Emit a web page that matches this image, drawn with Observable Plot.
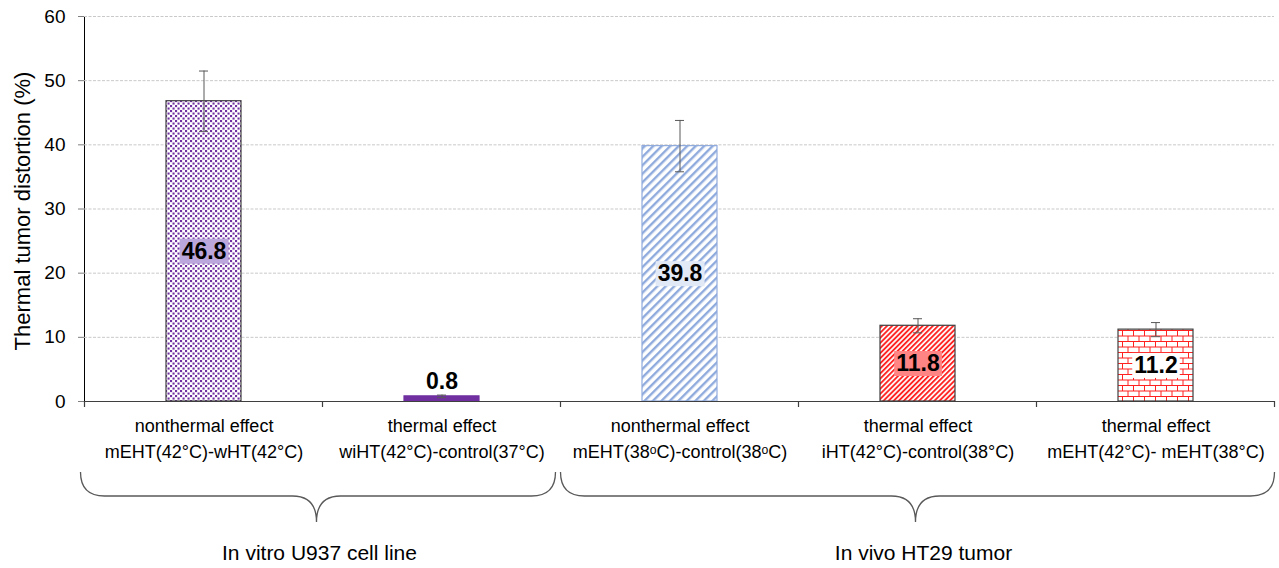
<!DOCTYPE html>
<html><head><meta charset="utf-8">
<script src="https://cdn.jsdelivr.net/npm/d3@7"></script>
<script src="https://cdn.jsdelivr.net/npm/@observablehq/plot@0.6"></script>
<style>
body{margin:0;background:#fff;font-family:"Liberation Sans",Arial,sans-serif}
</style>
</head><body><div id="chart"></div>
<script>
// ---- data ----
const categories = ["A", "B", "C", "D", "E"];
const labelLine1 = ["nonthermal effect", "thermal effect", "nonthermal effect", "thermal effect", "thermal effect"];
const labelLine2 = ["mEHT(42°C)-wHT(42°C)", "wiHT(42°C)-control(37°C)", "mEHT(38ᵒC)-control(38ᵒC)", "iHT(42°C)-control(38°C)", "mEHT(42°C)- mEHT(38°C)"];
const values = [46.8, 0.8, 39.8, 11.8, 11.2];
const errors = [4.7, 0.2, 4.0, 1.1, 1.1];
const groupNames = ["In vitro U937 cell line", "In vivo HT29 tumor"];
const groupFirst = [0, 2];
const groupLast = [1, 4];
const yTicks = [0, 10, 20, 30, 40, 50, 60];
const yTitle = "Thermal tumor distortion (%)";

// ---- styles ----
const patternIds = ["pDots", "pSolid", "pBlue", "pRed", "pBrick"];
const barStroke = ["#3f3f3f", "#7030a0", "#8faadc", "#3f3f3f", "#3f3f3f"];
const labelBg = ["#bca7dd", null, "#e2e9f6", "#ff8585", "#ffffff"];

const table = categories.map((c, i) => ({
  cat: c, value: values[i], err: errors[i], i,
  label: labelLine1[i] + "\n" + labelLine2[i],
  vtext: values[i].toFixed(1)
}));

const W = 1279, H = 568, mL = 84, mR = 5, mT = 16, mB = 167;
const padInner = 0.685;
const stepPx = (W - mL - mR) / categories.length;
const bwPx = stepPx * (1 - padInner);
const capInset = (bwPx - 9) / 2;

const plot = Plot.plot({
  width: W, height: H,
  marginLeft: mL, marginRight: mR, marginTop: mT, marginBottom: mB,
  style: {fontFamily: "Liberation Sans, Arial, sans-serif", fontSize: "19px", color: "#000", background: "#fff"},
  x: {domain: categories, paddingInner: padInner, paddingOuter: padInner / 2, axis: null},
  y: {domain: [0, 60], ticks: yTicks, tickSize: 6, tickPadding: 13, label: null, line: true},
  marks: [
    Plot.ruleY(yTicks.filter(d => d > 0), {stroke: "#c9c9c9", strokeDasharray: "3,1.5", strokeWidth: 1}),
    ...table.map(d => Plot.barY([d], {x: "cat", y: "value", fill: `url(#${patternIds[d.i]})`, stroke: barStroke[d.i], strokeWidth: 1.2})),
    Plot.ruleX(table, {x: "cat", y1: d => d.value - d.err, y2: d => d.value + d.err, stroke: "#595959", strokeWidth: 1}),
    Plot.tickY(table, {x: "cat", y: d => d.value + d.err, stroke: "#595959", strokeWidth: 1, insetLeft: capInset, insetRight: capInset}),
    Plot.tickY(table, {x: "cat", y: d => d.value - d.err, stroke: "#595959", strokeWidth: 1, insetLeft: capInset, insetRight: capInset}),
    Plot.text(table.filter(d => d.value >= 5), {x: "cat", y: d => d.value / 2, text: "vtext", fontSize: 23, fontWeight: "bold", fill: "#000"}),
    Plot.text(table.filter(d => d.value < 5), {x: "cat", y: "value", text: "vtext", dy: -15, fontSize: 23, fontWeight: "bold", fill: "#000"}),
    Plot.ruleY([0], {stroke: "#3f3f3f", strokeWidth: 1.2}),
    Plot.text(table, {x: "cat", text: "label", frameAnchor: "bottom", lineAnchor: "top", dy: 12, fontSize: 18, lineHeight: 1.45, fill: "#000"}),
    Plot.text([yTitle], {frameAnchor: "left", text: d => d, rotate: -90, textAnchor: "middle", dx: -62, dy: 2, fontSize: 22, fill: "#000"})
  ]
});

document.getElementById("chart").appendChild(plot);
const svg = d3.select(plot);

// ---- patterns ----
const defs = svg.insert("defs", ":first-child");
let p = defs.append("pattern").attr("id", "pDots").attr("patternUnits", "userSpaceOnUse").attr("width", 5).attr("height", 5);
p.append("rect").attr("width", 5).attr("height", 5).attr("fill", "#fff");
p.append("rect").attr("x", 0).attr("y", 0).attr("width", 2.1).attr("height", 2.1).attr("fill", "#7030a0");
p.append("rect").attr("x", 2.5).attr("y", 2.5).attr("width", 2.1).attr("height", 2.1).attr("fill", "#7030a0");
p = defs.append("pattern").attr("id", "pSolid").attr("patternUnits", "userSpaceOnUse").attr("width", 4).attr("height", 4);
p.append("rect").attr("width", 4).attr("height", 4).attr("fill", "#7030a0");
p = defs.append("pattern").attr("id", "pBlue").attr("patternUnits", "userSpaceOnUse").attr("width", 6).attr("height", 6).attr("patternTransform", "rotate(45)");
p.append("rect").attr("width", 6).attr("height", 6).attr("fill", "#fff");
p.append("rect").attr("width", 2.4).attr("height", 6).attr("fill", "#8faadc");
p = defs.append("pattern").attr("id", "pRed").attr("patternUnits", "userSpaceOnUse").attr("width", 3.6).attr("height", 3.6).attr("patternTransform", "rotate(45)");
p.append("rect").attr("width", 3.6).attr("height", 3.6).attr("fill", "#fff");
p.append("rect").attr("width", 1.9).attr("height", 3.6).attr("fill", "#ff2424");
p = defs.append("pattern").attr("id", "pBrick").attr("patternUnits", "userSpaceOnUse").attr("width", 11).attr("height", 11);
p.append("rect").attr("width", 11).attr("height", 11).attr("fill", "#fff");
p.append("path").attr("d", "M0,0.5H11M0,6H11M0.5,0.5V6M6,6V11").attr("stroke", "#ff2020").attr("stroke-width", 1).attr("fill", "none");

// ---- axis styling ----
svg.selectAll('[aria-label="y-axis tick"]').attr("stroke", "#7f7f7f");
svg.selectAll('[aria-label="y-axis tick"] path').attr("stroke", "#7f7f7f");

// ---- label backgrounds ----
const labelled = table.filter(d => d.value >= 5);
svg.selectAll("text").each(function() {
  const t = this;
  if (t.childElementCount > 0) return;
  const d = labelled.find(r => r.vtext === t.textContent.trim());
  if (!d) return;
  const col = labelBg[d.i];
  if (!col) return;
  const b = t.getBBox();
  const rect = document.createElementNS("http://www.w3.org/2000/svg", "rect");
  rect.setAttribute("x", b.x - 2);
  rect.setAttribute("y", b.y + 1);
  rect.setAttribute("width", b.width + 4);
  rect.setAttribute("height", b.height - 1);
  rect.setAttribute("fill", col);
  if (t.getAttribute("transform")) rect.setAttribute("transform", t.getAttribute("transform"));
  t.parentNode.insertBefore(rect, t);
});

// ---- x scale (band) for boundary ticks, braces, group labels ----
const xs = plot.scale("x");
const ys = plot.scale("y");
const bx = xs.apply ? (v => xs.apply(v)) :
  d3.scaleBand().domain(xs.domain).range(xs.range).paddingInner(xs.paddingInner ?? padInner).paddingOuter(xs.paddingOuter ?? padInner / 2).align(xs.align ?? 0.5);
const step = xs.step ?? stepPx, bw = xs.bandwidth ?? bwPx;
const y0 = ys.apply ? ys.apply(0) : H - mB;
const boundary = i => i < categories.length ? bx(categories[i]) - (step - bw) / 2 : bx(categories[i - 1]) + bw + (step - bw) / 2;

const extra = svg.append("g");
for (let i = 0; i <= categories.length; i++) {
  const x = boundary(i);
  extra.append("line").attr("x1", x).attr("x2", x).attr("y1", y0).attr("y2", y0 + 6).attr("stroke", "#3f3f3f").attr("stroke-width", 1.2);
}

const by0 = y0 + 71, by1 = y0 + 95, by2 = y0 + 121, r = 24;
groupNames.forEach((g, k) => {
  const x0 = boundary(groupFirst[k]) - (k === 0 ? 4 : 0);
  const x1 = boundary(groupLast[k] + 1) - (k === 0 ? 5 : 0);
  const xm = (boundary(groupFirst[k]) + boundary(groupLast[k] + 1)) / 2 - (k === 0 ? 6 : 2);
  extra.append("path")
    .attr("d", `M${x0},${by0}Q${x0},${by1} ${x0 + r},${by1}L${xm - r},${by1}Q${xm},${by1} ${xm},${by2}Q${xm},${by1} ${xm + r},${by1}L${x1 - r},${by1}Q${x1},${by1} ${x1},${by0}`)
    .attr("fill", "none").attr("stroke", "#595959").attr("stroke-width", 1.3);
  extra.append("text").attr("x", xm + (k === 0 ? 3 : 8)).attr("y", y0 + 159).attr("text-anchor", "middle")
    .attr("font-size", 21).attr("fill", "#000").text(g);
});
</script>
</body></html>
